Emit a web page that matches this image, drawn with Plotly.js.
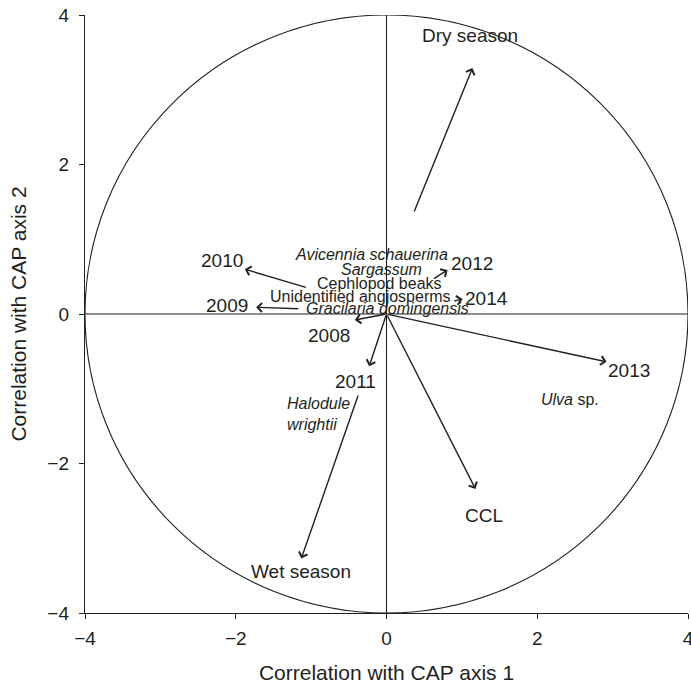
<!DOCTYPE html>
<html>
<head>
<meta charset="utf-8">
<script src="https://cdn.plot.ly/plotly-3.0.1.min.js"></script>
<style>html,body{margin:0;padding:0;background:#fff;}#chart{width:691px;height:685px;}</style>
</head>
<body>
<div id="chart"></div>
<script>
// Vector (arrow) data in CAP correlation space
const vectorLabels = ['Dry season', 'Wet season', '2012', '2014', '2010', '2009', '2008', '2011', '2013', 'CCL'];
const vectorStartX = [0.36, -0.37, 0.61, 0.88, -1.05, -1.15, 0, 0, 0, 0];
const vectorStartY = [1.35, -1.07, 0.46, 0.17, 0.35, 0.07, 0, 0, 0, 0];
const vectorEndX   = [1.14, -1.13, 0.81, 1.01, -1.88, -1.73, -0.42, -0.23, 2.92, 1.18];
const vectorEndY   = [3.29, -3.27, 0.59, 0.20, 0.60, 0.09, -0.08, -0.70, -0.64, -2.34];
const vectorLabelX = [1.11, -1.13, 1.14, 1.33, -2.18, -2.11, -0.76, -0.41, 3.22, 1.29];
const vectorLabelY = [3.73, -3.44, 0.68, 0.21, 0.71, 0.11, -0.29, -0.90, -0.76, -2.70];

// Diet item labels
const itemLabels = ['<i>Avicennia schauerina</i>', '<i>Sargassum</i>', 'Cephlopod beaks', 'Unidentified angiosperms', '<i>Gracilaria domingensis</i>', '<i>Halodule</i><br><i>wrightii</i>', '<i>Ulva</i> sp.'];
const itemX = [-0.20, -0.07, -0.09, -0.35, 0.01, -1.35, 2.43];
const itemY = [0.79, 0.59, 0.41, 0.24, 0.08, -1.34, -1.15];
const itemAlign = ['center', 'center', 'center', 'center', 'center', 'left', 'center'];

const tickVals = [-4, -2, 0, 2, 4];
const axisRange = [-4, 4];
const circleRadius = 4;

const ink = '#231f20';
const font = 'Liberation Sans, Arial, sans-serif';

const annotations = [];
for (let i = 0; i < vectorLabels.length; i++) {
  annotations.push({
    x: vectorEndX[i], y: vectorEndY[i], xref: 'x', yref: 'y',
    ax: vectorStartX[i], ay: vectorStartY[i], axref: 'x', ayref: 'y',
    text: '', showarrow: true, arrowhead: 4, arrowsize: 1.25, arrowwidth: 1.4,
    arrowcolor: ink, standoff: 0, startstandoff: 0
  });
  annotations.push({
    x: vectorLabelX[i], y: vectorLabelY[i], xref: 'x', yref: 'y',
    text: vectorLabels[i], showarrow: false,
    font: {family: font, size: 19, color: ink}
  });
}
for (let i = 0; i < itemLabels.length; i++) {
  annotations.push({
    x: itemX[i], y: itemY[i], xref: 'x', yref: 'y',
    text: itemLabels[i], showarrow: false,
    xanchor: itemAlign[i] === 'left' ? 'left' : 'center',
    align: itemAlign[i],
    font: {family: font, size: 16, color: ink}
  });
}

const shapes = [
  {type: 'circle', xref: 'x', yref: 'y', x0: -circleRadius, y0: -circleRadius, x1: circleRadius, y1: circleRadius, line: {color: ink, width: 1.1}},
  {type: 'line', xref: 'x', yref: 'y', x0: 0, x1: 0, y0: axisRange[0], y1: axisRange[1], line: {color: ink, width: 1.1}},
  {type: 'line', xref: 'x', yref: 'y', x0: axisRange[0], x1: axisRange[1], y0: 0, y1: 0, line: {color: ink, width: 1.1}}
];

const layout = {
  width: 691, height: 685,
  margin: {l: 85, r: 3, t: 15, b: 72},
  paper_bgcolor: '#fff', plot_bgcolor: '#fff',
  showlegend: false,
  font: {family: font, color: ink},
  xaxis: {
    range: axisRange, tickvals: tickVals, showgrid: false, zeroline: false,
    showline: true, linecolor: ink, linewidth: 1.2, ticks: 'outside', ticklen: 5, tickcolor: ink,
    ticklabeloverflow: 'allow', ticklabelstandoff: 3,
    tickfont: {family: font, size: 19, color: ink},
    title: {text: 'Correlation with CAP axis 1', font: {family: font, size: 21, color: ink}, standoff: 17}
  },
  yaxis: {
    range: axisRange, tickvals: tickVals, showgrid: false, zeroline: false,
    showline: true, linecolor: ink, linewidth: 1.2, ticks: 'outside', ticklen: 5, tickcolor: ink,
    ticklabeloverflow: 'allow', ticklabelstandoff: 6,
    tickfont: {family: font, size: 19, color: ink},
    title: {text: 'Correlation with CAP axis 2', font: {family: font, size: 21, color: ink}, standoff: 15}
  },
  shapes: shapes,
  annotations: annotations
};

Plotly.newPlot('chart', [{x: [], y: [], type: 'scatter', mode: 'markers'}], layout, {staticPlot: true, displayModeBar: false});
</script>
</body>
</html>
